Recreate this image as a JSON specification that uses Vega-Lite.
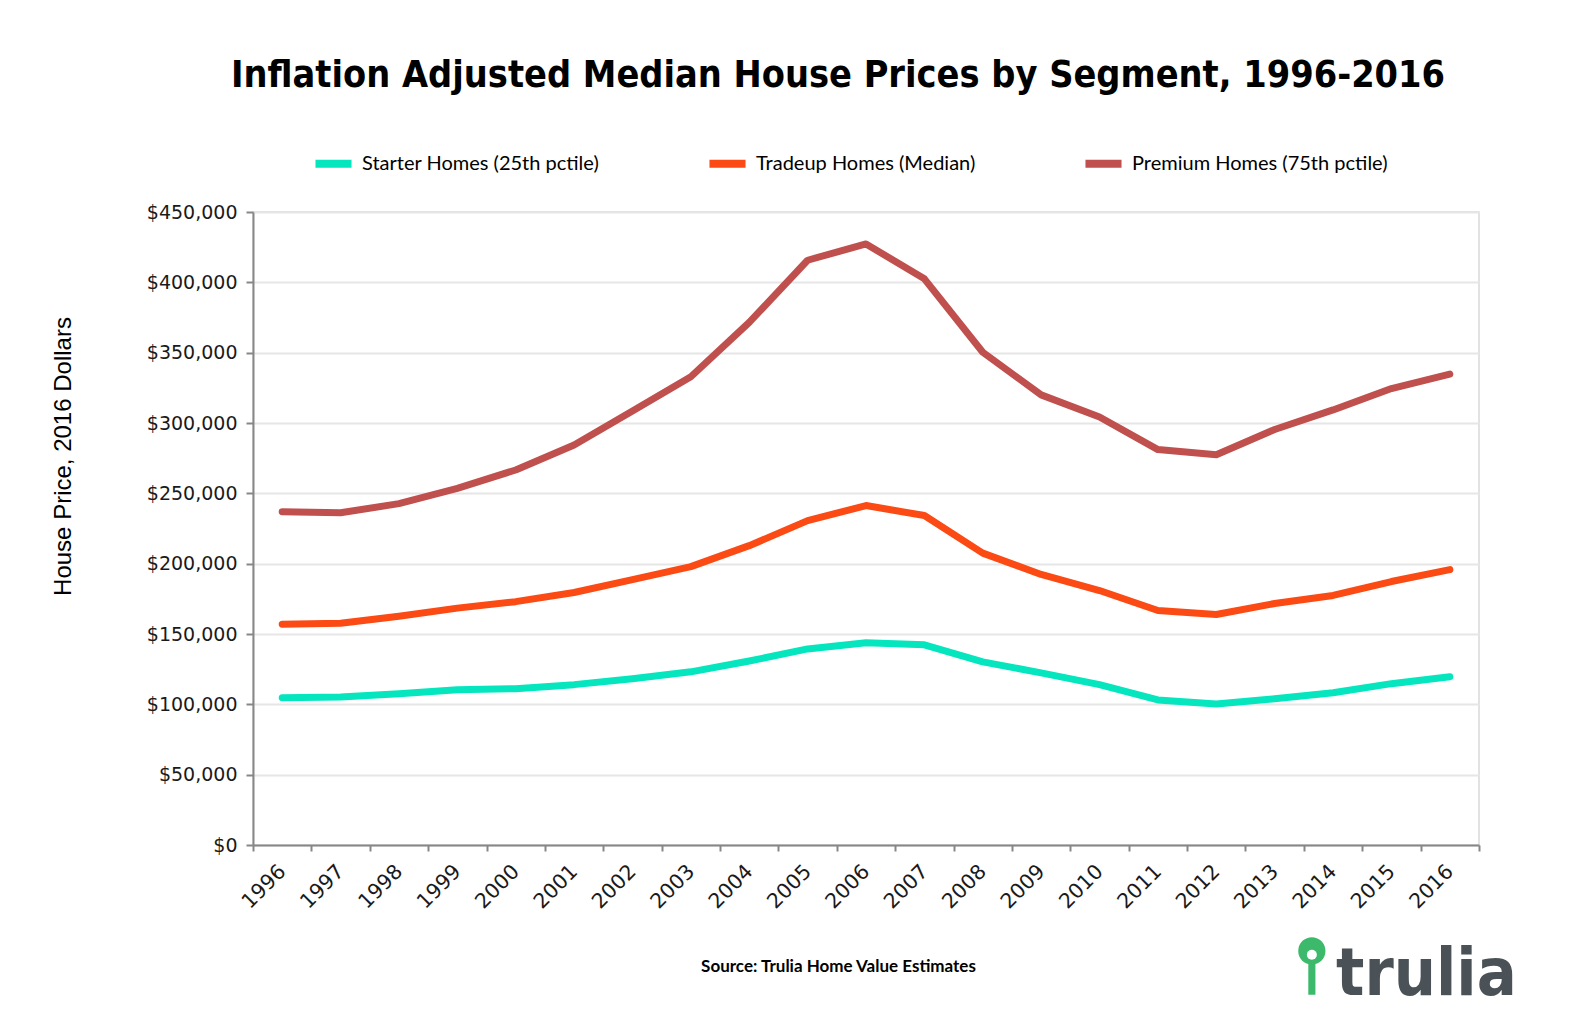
{
  "$schema": "https://vega.github.io/schema/vega-lite/v6.json",
  "width": 1226,
  "height": 633,
  "autosize": {"type": "none"},
  "padding": {"left": 253, "top": 212, "right": 93, "bottom": 188},
  "background": "white",
  "config": {
    "view": {"stroke": "#d9d9d9", "strokeWidth": 1.5},
    "legend": {"padding": 0}
  },
  "title": {
    "text": "Inflation Adjusted Median House Prices by Segment, 1996-2016",
    "font": "DejaVu Sans Condensed, DejaVu Sans",
    "fontWeight": "bold",
    "fontSize": 37.5,
    "color": "#000000",
    "anchor": "start",
    "frame": "group",
    "dx": -22,
    "offset": 47
  },
  "datasets": {
    "prices": [
      {"year": "1996", "segment": "Starter Homes (25th pctile)", "price": 104700},
      {"year": "1997", "segment": "Starter Homes (25th pctile)", "price": 105200},
      {"year": "1998", "segment": "Starter Homes (25th pctile)", "price": 107500},
      {"year": "1999", "segment": "Starter Homes (25th pctile)", "price": 110400},
      {"year": "2000", "segment": "Starter Homes (25th pctile)", "price": 111100},
      {"year": "2001", "segment": "Starter Homes (25th pctile)", "price": 114000},
      {"year": "2002", "segment": "Starter Homes (25th pctile)", "price": 118200},
      {"year": "2003", "segment": "Starter Homes (25th pctile)", "price": 123100},
      {"year": "2004", "segment": "Starter Homes (25th pctile)", "price": 130800},
      {"year": "2005", "segment": "Starter Homes (25th pctile)", "price": 139400},
      {"year": "2006", "segment": "Starter Homes (25th pctile)", "price": 143800},
      {"year": "2007", "segment": "Starter Homes (25th pctile)", "price": 142300},
      {"year": "2008", "segment": "Starter Homes (25th pctile)", "price": 130200},
      {"year": "2009", "segment": "Starter Homes (25th pctile)", "price": 122400},
      {"year": "2010", "segment": "Starter Homes (25th pctile)", "price": 114000},
      {"year": "2011", "segment": "Starter Homes (25th pctile)", "price": 103100},
      {"year": "2012", "segment": "Starter Homes (25th pctile)", "price": 100200},
      {"year": "2013", "segment": "Starter Homes (25th pctile)", "price": 103900},
      {"year": "2014", "segment": "Starter Homes (25th pctile)", "price": 108200},
      {"year": "2015", "segment": "Starter Homes (25th pctile)", "price": 114700},
      {"year": "2016", "segment": "Starter Homes (25th pctile)", "price": 119600},
      {"year": "1996", "segment": "Tradeup Homes (Median)", "price": 157000},
      {"year": "1997", "segment": "Tradeup Homes (Median)", "price": 157700},
      {"year": "1998", "segment": "Tradeup Homes (Median)", "price": 162600},
      {"year": "1999", "segment": "Tradeup Homes (Median)", "price": 168400},
      {"year": "2000", "segment": "Tradeup Homes (Median)", "price": 173000},
      {"year": "2001", "segment": "Tradeup Homes (Median)", "price": 179500},
      {"year": "2002", "segment": "Tradeup Homes (Median)", "price": 188700},
      {"year": "2003", "segment": "Tradeup Homes (Median)", "price": 197900},
      {"year": "2004", "segment": "Tradeup Homes (Median)", "price": 212800},
      {"year": "2005", "segment": "Tradeup Homes (Median)", "price": 230600},
      {"year": "2006", "segment": "Tradeup Homes (Median)", "price": 241300},
      {"year": "2007", "segment": "Tradeup Homes (Median)", "price": 234200},
      {"year": "2008", "segment": "Tradeup Homes (Median)", "price": 207500},
      {"year": "2009", "segment": "Tradeup Homes (Median)", "price": 192300},
      {"year": "2010", "segment": "Tradeup Homes (Median)", "price": 180900},
      {"year": "2011", "segment": "Tradeup Homes (Median)", "price": 166700},
      {"year": "2012", "segment": "Tradeup Homes (Median)", "price": 163900},
      {"year": "2013", "segment": "Tradeup Homes (Median)", "price": 171700},
      {"year": "2014", "segment": "Tradeup Homes (Median)", "price": 177400},
      {"year": "2015", "segment": "Tradeup Homes (Median)", "price": 187300},
      {"year": "2016", "segment": "Tradeup Homes (Median)", "price": 195800},
      {"year": "1996", "segment": "Premium Homes (75th pctile)", "price": 236900},
      {"year": "1997", "segment": "Premium Homes (75th pctile)", "price": 236200},
      {"year": "1998", "segment": "Premium Homes (75th pctile)", "price": 242700},
      {"year": "1999", "segment": "Premium Homes (75th pctile)", "price": 253500},
      {"year": "2000", "segment": "Premium Homes (75th pctile)", "price": 266600},
      {"year": "2001", "segment": "Premium Homes (75th pctile)", "price": 284400},
      {"year": "2002", "segment": "Premium Homes (75th pctile)", "price": 308600},
      {"year": "2003", "segment": "Premium Homes (75th pctile)", "price": 332900},
      {"year": "2004", "segment": "Premium Homes (75th pctile)", "price": 371500},
      {"year": "2005", "segment": "Premium Homes (75th pctile)", "price": 415700},
      {"year": "2006", "segment": "Premium Homes (75th pctile)", "price": 427300},
      {"year": "2007", "segment": "Premium Homes (75th pctile)", "price": 402500},
      {"year": "2008", "segment": "Premium Homes (75th pctile)", "price": 350300},
      {"year": "2009", "segment": "Premium Homes (75th pctile)", "price": 320000},
      {"year": "2010", "segment": "Premium Homes (75th pctile)", "price": 304300},
      {"year": "2011", "segment": "Premium Homes (75th pctile)", "price": 281100},
      {"year": "2012", "segment": "Premium Homes (75th pctile)", "price": 277400},
      {"year": "2013", "segment": "Premium Homes (75th pctile)", "price": 295400},
      {"year": "2014", "segment": "Premium Homes (75th pctile)", "price": 309300},
      {"year": "2015", "segment": "Premium Homes (75th pctile)", "price": 324500},
      {"year": "2016", "segment": "Premium Homes (75th pctile)", "price": 334800}
    ]
  },
  "layer": [
    {
      "data": {"name": "prices"},
      "mark": {"type": "line", "strokeWidth": 7, "strokeCap": "round", "strokeJoin": "round"},
      "encoding": {
        "x": {
          "field": "year",
          "type": "ordinal",
          "bandPosition": 0.5,
          "scale": {"type": "band", "paddingInner": 0, "paddingOuter": 0},
          "axis": {
            "title": "Source: Trulia Home Value Estimates",
            "titleFont": "Lato",
            "titleFontWeight": "bold",
            "titleFontSize": 17,
            "titleColor": "#000000",
            "titleX": 585,
            "titleY": 121,
            "titleAlign": "center",
            "titleBaseline": "middle",
            "tickBand": "extent",
            "grid": false,
            "domainColor": "#878787",
            "domainWidth": 2,
            "tickColor": "#878787",
            "tickWidth": 2,
            "tickSize": 6,
            "labelAngle": -45,
            "labelAlign": "right",
            "labelBaseline": "middle",
            "labelPadding": 17,
            "labelFont": "DejaVu Sans",
            "labelFontSize": 20.5,
            "labelColor": "#1a1a1a"
          }
        },
        "y": {
          "field": "price",
          "type": "quantitative",
          "scale": {"domain": [0, 450000], "nice": false},
          "axis": {
            "values": [0, 50000, 100000, 150000, 200000, 250000, 300000, 350000, 400000, 450000],
            "format": "$,.0f",
            "title": "House Price, 2016 Dollars",
            "titleFont": "Liberation Sans",
            "titleFontWeight": "normal",
            "titleFontSize": 24,
            "titleColor": "#000000",
            "titleAngle": -90,
            "titleX": -190,
            "titleY": 244,
            "titleAlign": "center",
            "titleBaseline": "middle",
            "domainColor": "#878787",
            "domainWidth": 2,
            "tickColor": "#878787",
            "tickWidth": 2,
            "tickSize": 7,
            "labelPadding": 9,
            "labelFont": "DejaVu Sans",
            "labelFontSize": 19,
            "labelColor": "#1a1a1a",
            "gridColor": "#e6e6e6",
            "gridWidth": 2
          }
        },
        "color": {
          "field": "segment",
          "type": "nominal",
          "scale": {
            "domain": ["Starter Homes (25th pctile)", "Tradeup Homes (Median)", "Premium Homes (75th pctile)"],
            "range": ["#05e6be", "#fb4a14", "#c0504d"]
          },
          "legend": {
            "title": null,
            "orient": "none",
            "legendX": 58,
            "legendY": -71,
            "direction": "horizontal",
            "symbolType": "stroke",
            "symbolSize": 1300,
            "symbolStrokeWidth": 8,
            "labelFont": "Lato",
            "labelFontSize": 20,
            "labelColor": "#000000",
            "labelOffset": 6,
            "labelLimit": 500,
            "columnPadding": 93
          }
        }
      }
    },
    {
      "data": {"values": [{}]},
      "mark": {"type": "point", "shape": "M -0.11 1 L -0.11 0.05 A 0.42 0.42 0 1 1 0.11 0.05 L 0.11 1 Z", "filled": true, "color": "#3cb96a", "size": 4200, "opacity": 1, "clip": false},
      "encoding": {"x": {"datum": "2014"}, "y": {"datum": -83500}, "xOffset": {"value": 8}}
    },
    {
      "data": {"values": [{}]},
      "mark": {"type": "point", "shape": "circle", "filled": true, "color": "#ffffff", "size": 100, "opacity": 1, "clip": false},
      "encoding": {"x": {"datum": "2014"}, "y": {"datum": -78000}, "xOffset": {"value": 8}}
    },
    {
      "data": {"values": [{}]},
      "mark": {"type": "text", "text": "trulia", "font": "DejaVu Sans Condensed, DejaVu Sans", "fontWeight": "bold", "fontSize": 66, "color": "#4a5257", "align": "left", "baseline": "alphabetic", "clip": false, "dx": 3},
      "encoding": {"x": {"datum": "2014"}, "y": {"datum": -106600}}
    }
  ]
}
